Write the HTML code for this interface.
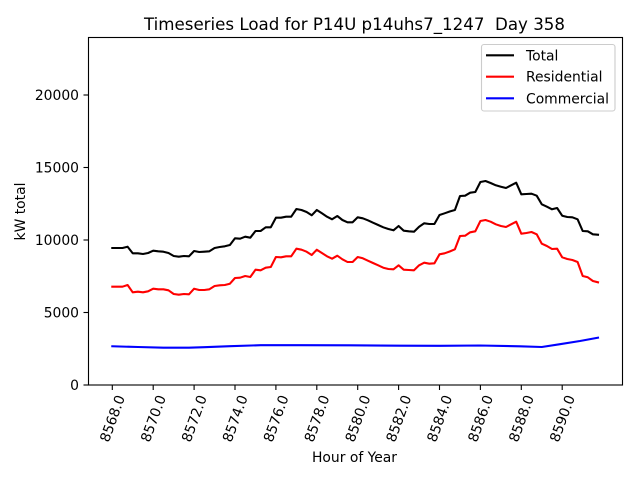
<!DOCTYPE html>
<html>
<head>
<meta charset="utf-8">
<style>
html,body{margin:0;padding:0;background:#fff;}
svg{display:block;}
text{font-family:"DejaVu Sans","Liberation Sans",sans-serif;fill:#000;}
.pre{white-space:pre;}
</style>
</head>
<body>
<svg width="640" height="480" viewBox="0 0 640 480" xmlns="http://www.w3.org/2000/svg">
<rect x="0" y="0" width="640" height="480" fill="#fff"/>

<!-- Title -->
<text class="pre" xml:space="preserve" x="354.5" y="30" font-size="16.67" text-anchor="middle">Timeseries Load for P14U p14uhs7_1247  Day 358</text>

<!-- Series -->
<g fill="none" stroke-width="2.08" stroke-linejoin="round" stroke-linecap="square">
<polyline stroke="#000000" points="
112.3,248 117.4,248 122.5,248 127.6,246.7 132.7,253.3 137.9,253.3 143.0,254 148.1,253 153.2,250.7 158.3,251.3 163.4,251.7 168.5,253 173.7,256 178.8,256.7 183.9,256 189.0,256.3 194.1,251 199.2,252 204.3,251.7 209.4,251.3 214.6,248 219.7,247 224.8,246.3 229.9,245 235.0,238.3 240.1,238.7 245.2,236.7 250.3,237.7 255.5,231 260.6,231 265.7,227.3 270.8,227.3 275.9,217.7 281.0,217.7 286.1,216.7 291.2,216.7 296.4,209 301.5,210 306.6,212 311.7,215.3 316.8,210 321.9,213.3 327.0,216.7 332.1,219.3 337.3,216 342.4,220 347.5,222.3 352.6,222.3 357.7,217.3 362.8,218.3 367.9,220.3 373.0,222.7 378.2,225 383.3,227.3 388.4,229 393.5,230.3 398.6,226 403.7,230.7 408.8,231.3 414.0,231.7 419.1,226.7 424.2,223.3 429.3,224 434.4,224 439.5,215 444.6,213.3 449.7,211.5 454.9,210 460.0,196 465.1,195.7 470.2,192.7 475.3,192 480.4,182 485.5,181 490.6,183 495.8,185.3 500.9,186.7 506.0,188 511.1,185.3 516.2,182.7 521.3,194.3 526.4,194 531.5,193.7 536.7,195.7 541.8,204.3 546.9,206.7 552.0,209.3 557.1,208 562.2,215.7 567.3,217 572.4,217.3 577.6,219.3 582.7,231 587.8,231.3 592.9,234.3 598.0,234.7"/>
<polyline stroke="#ff0000" points="
112.3,286.7 117.4,286.7 122.5,286.7 127.6,285 132.7,292.3 137.9,291.7 143.0,292.3 148.1,291.3 153.2,288.7 158.3,289.3 163.4,289.3 168.5,290.3 173.7,294 178.8,294.7 183.9,294 189.0,294.3 194.1,288.7 199.2,290 204.3,290 209.4,289.3 214.6,286 219.7,285.3 224.8,285 229.9,283.7 235.0,278 240.1,277.7 245.2,276 250.3,277 255.5,269.7 260.6,270.3 265.7,267.7 270.8,267 275.9,257 281.0,257.3 286.1,256.3 291.2,256.3 296.4,248.7 301.5,249.7 306.6,251.7 311.7,255 316.8,249.7 321.9,253 327.0,256.3 332.1,258.7 337.3,255.7 342.4,259.3 347.5,262 352.6,262 357.7,257 362.8,258.3 367.9,260.7 373.0,263 378.2,265.3 383.3,267.7 388.4,269 393.5,269.3 398.6,265.3 403.7,269.7 408.8,270 414.0,270.3 419.1,265.3 424.2,262.7 429.3,263.7 434.4,263.3 439.5,254.3 444.6,253.3 449.7,251.5 454.9,249.3 460.0,236 465.1,235.7 470.2,232.3 475.3,231.3 480.4,221 485.5,220 490.6,221.7 495.8,224.3 500.9,226 506.0,227 511.1,224.3 516.2,221.7 521.3,233.7 526.4,233 531.5,232 536.7,234.3 541.8,243.7 546.9,246 552.0,249 557.1,248.7 562.2,257.3 567.3,259 572.4,260 577.6,262 582.7,276 587.8,277.3 592.9,281 598.0,282.3"/>
<polyline stroke="#0000ff" points="
112.3,346.3 137.9,347 163.4,347.7 189.0,347.7 204.3,347.2 230,346.2 260.6,345.2 300,345.2 350,345.3 400,345.7 440,345.8 480,345.5 520,346.3 541.8,347 560,344.2 580,341 598.0,337.7"/>
</g>

<!-- Spines -->
<rect x="88.5" y="37.5" width="534" height="347.5" fill="none" stroke="#000" stroke-width="1.11"/>

<!-- X ticks -->
<g stroke="#000" stroke-width="1.11">
<line x1="112.3" y1="385" x2="112.3" y2="390"/>
<line x1="153.2" y1="385" x2="153.2" y2="390"/>
<line x1="194.1" y1="385" x2="194.1" y2="390"/>
<line x1="235.0" y1="385" x2="235.0" y2="390"/>
<line x1="275.9" y1="385" x2="275.9" y2="390"/>
<line x1="316.8" y1="385" x2="316.8" y2="390"/>
<line x1="357.7" y1="385" x2="357.7" y2="390"/>
<line x1="398.6" y1="385" x2="398.6" y2="390"/>
<line x1="439.5" y1="385" x2="439.5" y2="390"/>
<line x1="480.4" y1="385" x2="480.4" y2="390"/>
<line x1="521.3" y1="385" x2="521.3" y2="390"/>
<line x1="562.2" y1="385" x2="562.2" y2="390"/>
</g>
<g font-size="13.89">
<text transform="translate(108.6,443) rotate(-70)">8568.0</text>
<text transform="translate(149.5,443) rotate(-70)">8570.0</text>
<text transform="translate(190.4,443) rotate(-70)">8572.0</text>
<text transform="translate(231.3,443) rotate(-70)">8574.0</text>
<text transform="translate(272.2,443) rotate(-70)">8576.0</text>
<text transform="translate(313.1,443) rotate(-70)">8578.0</text>
<text transform="translate(354.0,443) rotate(-70)">8580.0</text>
<text transform="translate(394.9,443) rotate(-70)">8582.0</text>
<text transform="translate(435.8,443) rotate(-70)">8584.0</text>
<text transform="translate(476.7,443) rotate(-70)">8586.0</text>
<text transform="translate(517.6,443) rotate(-70)">8588.0</text>
<text transform="translate(558.5,443) rotate(-70)">8590.0</text>
</g>

<!-- Y ticks -->
<g stroke="#000" stroke-width="1.11">
<line x1="83.5" y1="385" x2="88.5" y2="385"/>
<line x1="83.5" y1="312.5" x2="88.5" y2="312.5"/>
<line x1="83.5" y1="240" x2="88.5" y2="240"/>
<line x1="83.5" y1="167.5" x2="88.5" y2="167.5"/>
<line x1="83.5" y1="95" x2="88.5" y2="95"/>
</g>
<g font-size="13.89" text-anchor="end">
<text x="79" y="390">0</text>
<text x="79" y="317.5">5000</text>
<text x="79" y="245">10000</text>
<text x="79" y="172.5">15000</text>
<text x="79" y="100">20000</text>
</g>

<!-- Axis labels -->
<text x="354.5" y="462" font-size="13.89" text-anchor="middle">Hour of Year</text>
<text transform="translate(25,211.5) rotate(-90)" font-size="13.89" text-anchor="middle">kW total</text>

<!-- Legend -->
<rect x="481.5" y="44.5" width="133.5" height="66.5" rx="2.5" ry="2.5" fill="#fff" fill-opacity="0.8" stroke="#cccccc" stroke-width="1.11"/>
<g stroke-width="2.08">
<line x1="486" y1="55.3" x2="514" y2="55.3" stroke="#000000"/>
<line x1="486" y1="76.7" x2="514" y2="76.7" stroke="#ff0000"/>
<line x1="486" y1="98.3" x2="514" y2="98.3" stroke="#0000ff"/>
</g>
<g font-size="13.89">
<text x="526" y="60.3">Total</text>
<text x="526" y="81.7">Residential</text>
<text x="526" y="103.3">Commercial</text>
</g>
</svg>
</body>
</html>
